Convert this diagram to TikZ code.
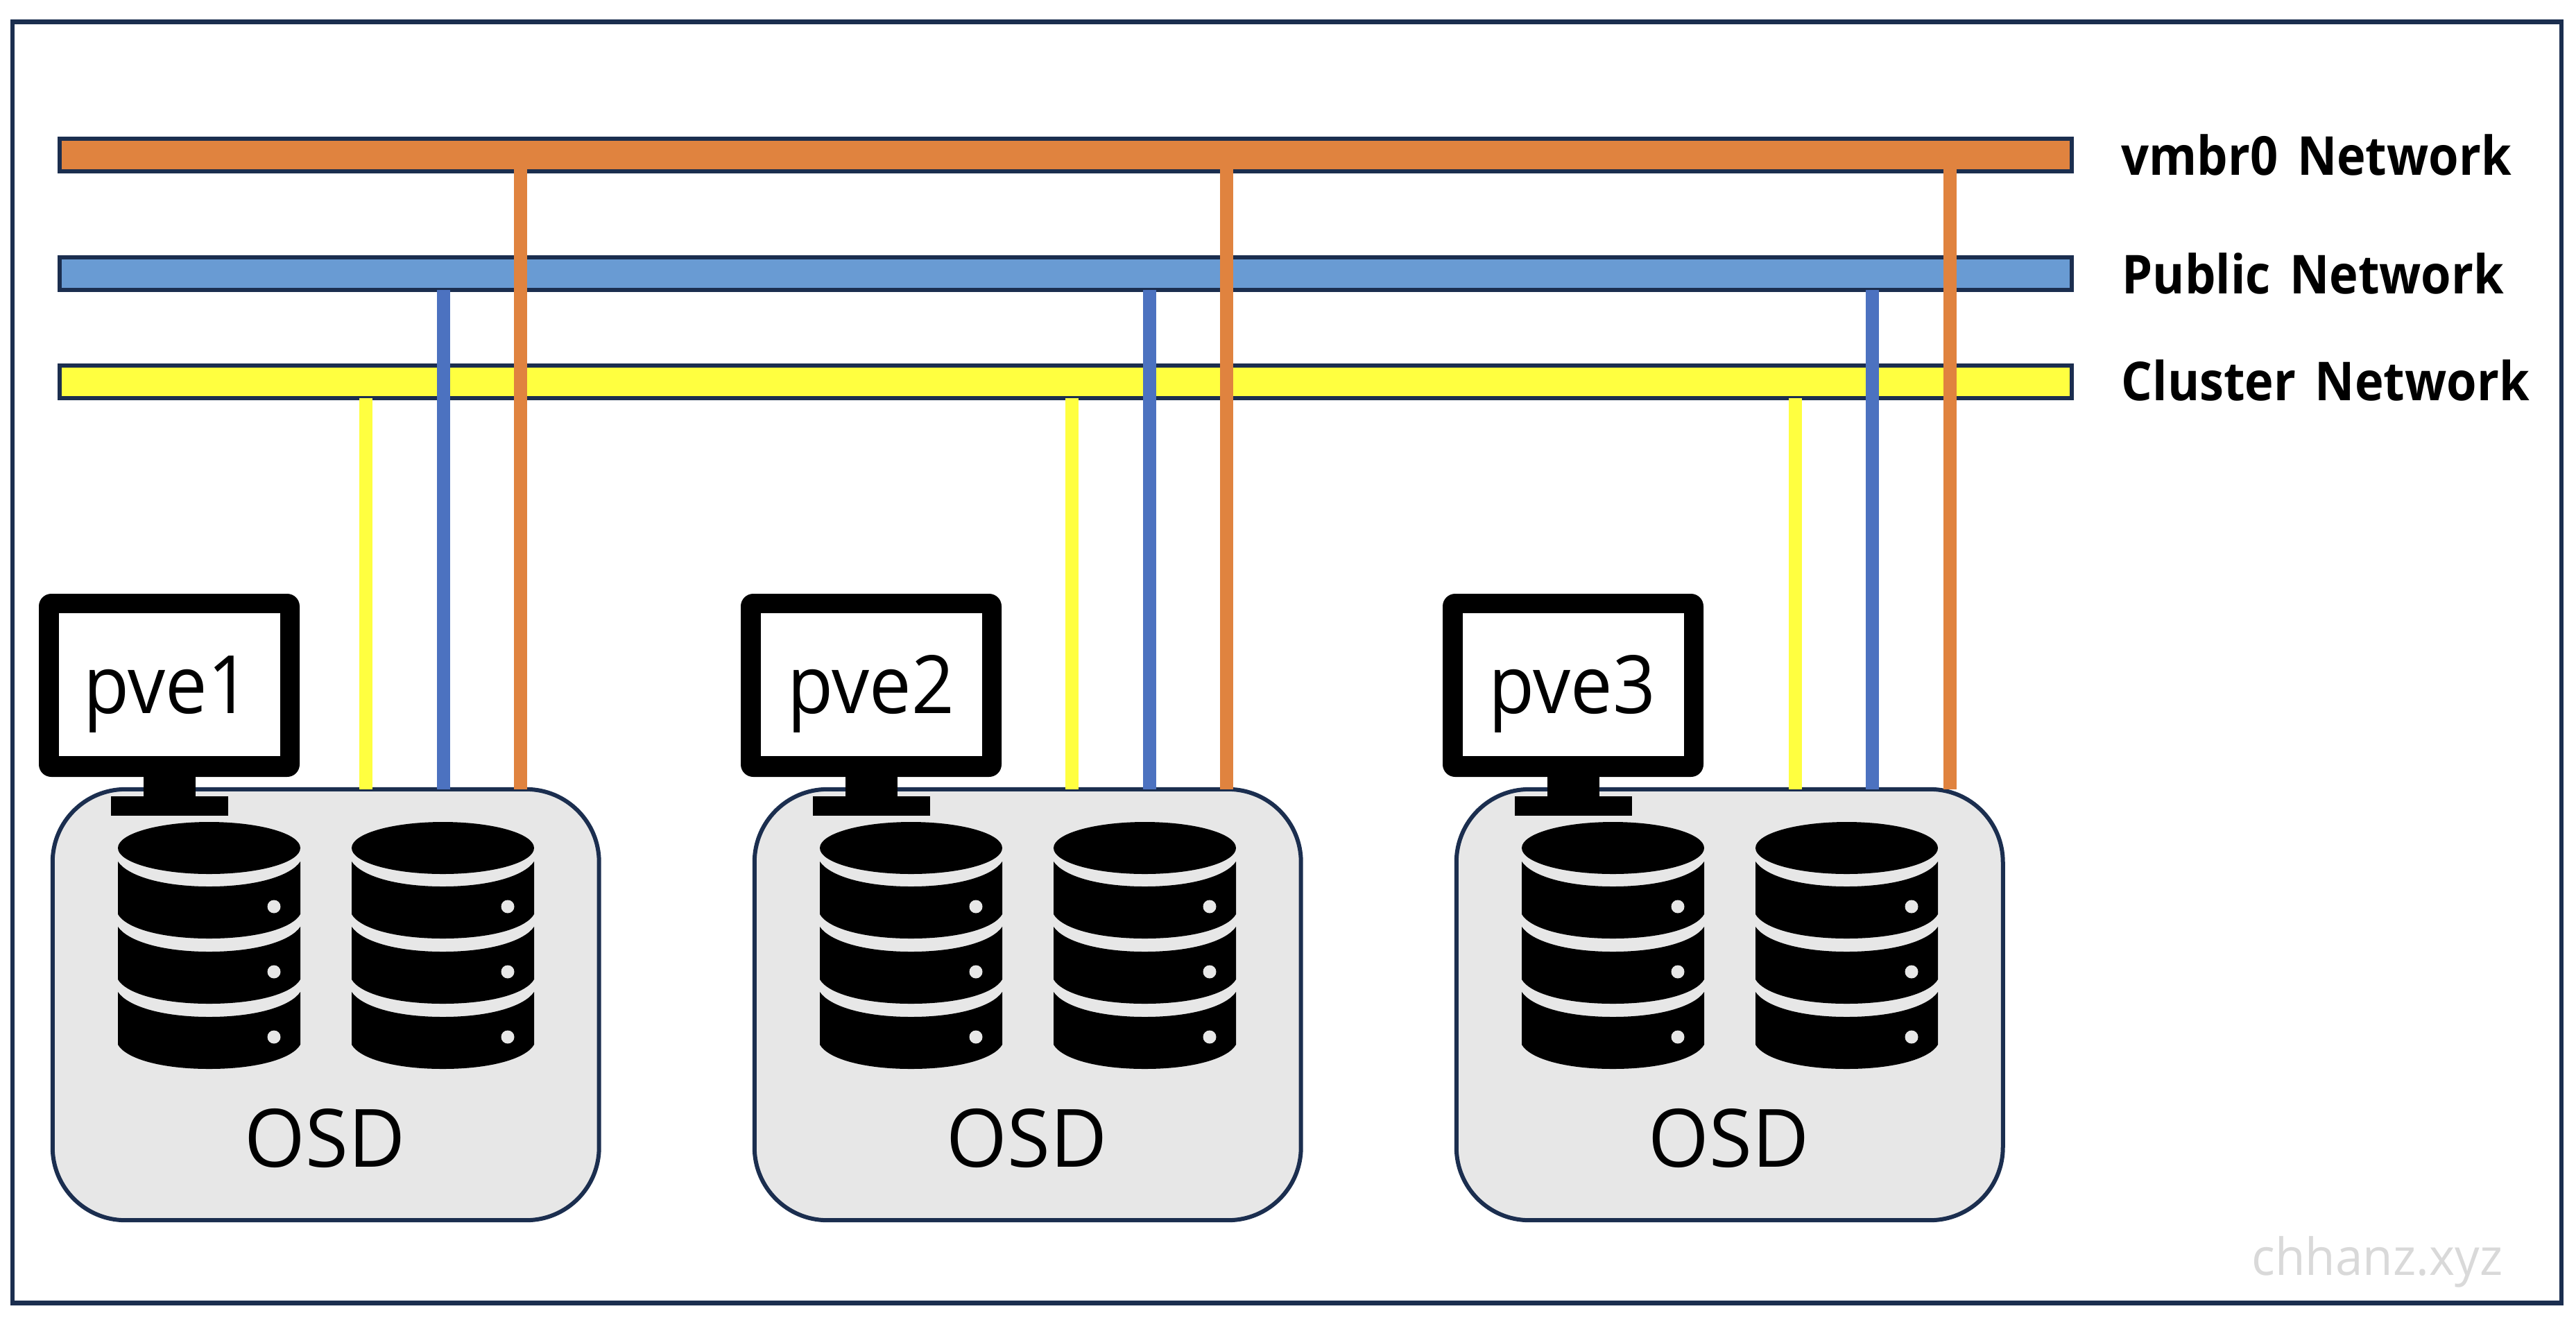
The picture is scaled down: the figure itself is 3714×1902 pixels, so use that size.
\documentclass[tikz,border=0pt]{standalone}
\usepackage{fontspec}
\setmainfont{Open Sans}
\newfontfamily\hostfont[FakeStretch=0.93]{Open Sans}
\newfontfamily\osdfont[FakeStretch=0.97]{Open Sans}
\newfontfamily\markfont[FakeStretch=0.96]{Open Sans}
\newfontfamily\netfont[FakeStretch=0.91,WordSpace=1.5]{Open Sans Bold}
\definecolor{navy}{HTML}{1B2E4F}
\definecolor{osdgrey}{HTML}{E7E7E7}
\definecolor{barorange}{HTML}{E0833F}
\definecolor{barblue}{HTML}{699BD3}
\definecolor{wireblue}{HTML}{4C72C0}
\definecolor{netyellow}{HTML}{FFFF40}
\definecolor{markgrey}{HTML}{D9D9D9}
\begin{document}
\begin{tikzpicture}[x=0.01cm,y=-0.01cm]
      \tikzstyle{frame}=[draw=navy,line width=0.065cm,minimum width=36.73cm,minimum height=18.46cm,outer sep=0pt]
      \tikzstyle{bar}=[draw=navy,line width=0.06cm,minimum width=28.99cm,minimum height=0.47cm,outer sep=0pt]
      \tikzstyle{osd}=[draw=navy,fill=osdgrey,line width=0.06cm,rounded corners=1.05cm,minimum width=7.875cm,minimum height=6.21cm,outer sep=0pt]
      \tikzstyle{wire}=[draw,line width=0.19cm]
      \tikzstyle{netlabel}=[anchor=base west,inner sep=0pt,font=\netfont\fontsize{22}{26}\selectfont]
      \tikzstyle{hostlabel}=[anchor=base,inner sep=0pt,font=\hostfont\fontsize{33}{40}\selectfont]
      \tikzstyle{osdlabel}=[anchor=base,inner sep=0pt,font=\osdfont\fontsize{33}{40}\selectfont]
      \tikzset{
        pics/diskband/.style={code={
          \fill[black] (-131.5,0) .. controls (-118,20) and (-70,36) .. (0,36) .. controls (70,36) and (118,20) .. (131.5,0) -- (131.5,76) .. controls (120,96) and (70,111) .. (0,111) .. controls (-70,111) and (-120,96) .. (-131.5,76) -- cycle;
          \fill[osdgrey] (93.5,65) circle[radius=9.5];
        }},
        pics/disk/.style={code={
          \fill[black] (0,0) ellipse[x radius=131.5,y radius=37.5];
          \pic at (0,19.5) {diskband};
          \pic at (0,113.5) {diskband};
          \pic at (0,207.5) {diskband};
        }},
        pics/monitor/.style={code={
          \fill[black] (-37.5,130) rectangle (37.5,165);
          \fill[black] (-84.5,160) rectangle (84.5,188);
          \fill[black,rounded corners=0.18cm] (-188,-132) rectangle (188,132);
          \fill[white] (-159.5,-104) rectangle (159.5,102);
        }}
      }
      \useasboundingbox (0,0) rectangle (3714,1902);
      \node[frame] (border) at (1855.5,955) {};
      \node[bar,fill=barorange] (vmbr) at (1536.5,223.5) {};
      \node[bar,fill=barblue] (public) at (1536.5,394.5) {};
      \node[bar,fill=netyellow] (cluster) at (1536.5,550.5) {};
      \node[netlabel] (vmbrtext) at (3058,252) {vmbr0 Network};
      \node[netlabel] (publictext) at (3059,423) {Public Network};
      \node[netlabel] (clustertext) at (3058,577.5) {Cluster Network};
      \node[osd] (osd1) at (469.75,1448.5) {};
      \node[osd] (osd2) at (1481.75,1448.5) {};
      \node[osd] (osd3) at (2493.75,1448.5) {};
      \coordinate (yellow1) at (527.5,800);
      \coordinate (blue1) at (639,800);
      \coordinate (orange1) at (750.5,800);
      \coordinate (yellow2) at (1545.7,800);
      \coordinate (blue2) at (1657.4,800);
      \coordinate (orange2) at (1768.6,800);
      \coordinate (yellow3) at (2588.9,800);
      \coordinate (blue3) at (2699.3,800);
      \coordinate (orange3) at (2811.6,800);
      \path[wire,netyellow] (yellow1 |- cluster.south) -- (yellow1 |- osd1.north);
      \path[wire,netyellow] (yellow2 |- cluster.south) -- (yellow2 |- osd2.north);
      \path[wire,netyellow] (yellow3 |- cluster.south) -- (yellow3 |- osd3.north);
      \path[wire,wireblue] (blue1 |- public.south) -- (blue1 |- osd1.north);
      \path[wire,wireblue] (blue2 |- public.south) -- (blue2 |- osd2.north);
      \path[wire,wireblue] (blue3 |- public.south) -- (blue3 |- osd3.north);
      \path[wire,barorange] (orange1 |- vmbr.center) -- (orange1 |- osd1.north);
      \path[wire,barorange] (orange2 |- vmbr.center) -- (orange2 |- osd2.north);
      \path[wire,barorange] (orange3 |- vmbr.center) -- (orange3 |- osd3.north);
      \pic at (244,988) {monitor};
      \pic at (1256,988) {monitor};
      \pic at (2268,988) {monitor};
      \pic at (301.5,1222.5) {disk};
      \pic at (638.5,1222.5) {disk};
      \pic at (1313.5,1222.5) {disk};
      \pic at (1650.5,1222.5) {disk};
      \pic at (2325.5,1222.5) {disk};
      \pic at (2662.5,1222.5) {disk};
      \node[hostlabel] (pve1) at (241,1028) {pve1};
      \node[hostlabel] (pve2) at (1256,1028) {pve2};
      \node[hostlabel] (pve3) at (2267,1028) {pve3};
      \node[osdlabel] (osdtext1) at (468.5,1682) {OSD};
      \node[osdlabel] (osdtext2) at (1480.5,1682) {OSD};
      \node[osdlabel] (osdtext3) at (2492.5,1682) {OSD};
      \node[anchor=base east,inner sep=0pt,text=markgrey,font=\markfont\fontsize{21}{25}\selectfont] (mark) at (3609,1838) {chhanz.xyz};
    \end{tikzpicture}
\end{document}
